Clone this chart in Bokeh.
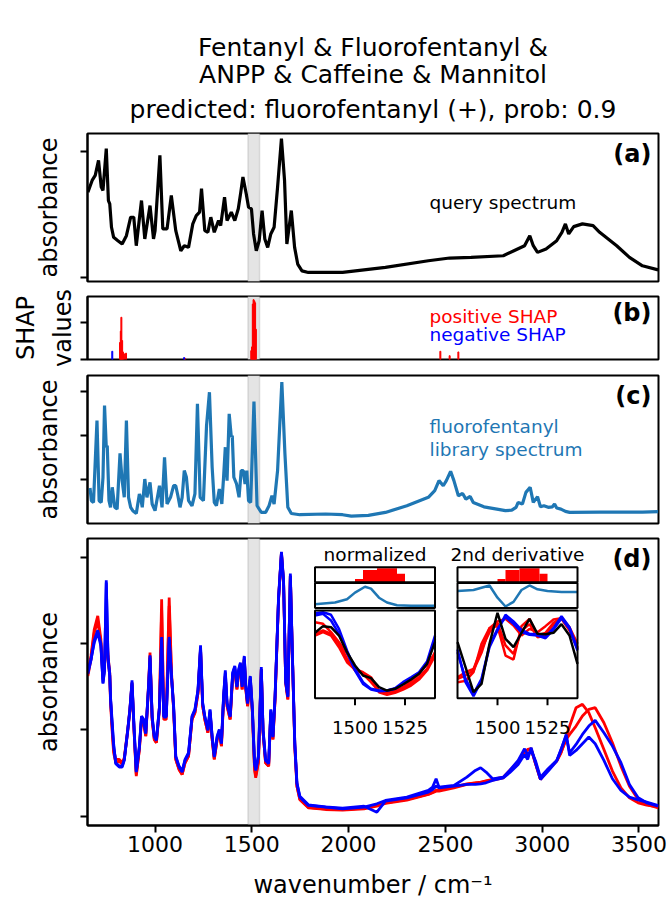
from bokeh.plotting import figure
from bokeh.models import Range1d, FixedTicker, BoxAnnotation
from bokeh.layouts import column
from bokeh.embed import file_html
from bokeh.resources import INLINE
from bokeh.core.properties import value

FONT = "DejaVu Sans"

# ---------------- data ----------------
title_lines = ["Fentanyl & Fluorofentanyl &", "ANPP & Caffeine & Mannitol",
               "predicted: fluorofentanyl (+), prob: 0.9"]
x_ticks = [1000, 1500, 2000, 2500, 3000, 3500]
band = (1480, 1540)

# (a) query spectrum
query_wn = [653, 675, 691, 708, 722, 731, 748, 759, 766, 775, 786, 808, 830, 852, 874, 890, 903, 930, 947, 974,
            992, 1000, 1025, 1040, 1062, 1084, 1107, 1133, 1151, 1173, 1195, 1213, 1230, 1240, 1257, 1273, 1288, 1306, 1328, 1339,
            1359, 1372, 1394, 1412, 1430, 1443, 1454, 1471, 1483, 1498, 1509, 1523, 1538, 1553, 1567, 1582, 1598, 1615, 1633, 1653,
            1669, 1681, 1704, 1721, 1737, 1759, 1792, 1969, 2190, 2412, 2522, 2633, 2799, 2854, 2909, 2936, 2954, 2976, 3020, 3075,
            3102, 3120, 3137, 3163, 3208, 3263, 3297, 3385, 3451, 3518, 3599]
query_abs = [0.68, 0.773, 0.813, 0.933, 0.72, 0.693, 1.027, 0.613, 0.587, 0.40, 0.32, 0.293, 0.267, 0.333, 0.48, 0.48, 0.253, 0.613, 0.307, 0.573,
             0.307, 0.373, 0.973, 0.387, 0.387, 0.653, 0.373, 0.213, 0.253, 0.24, 0.427, 0.493, 0.52, 0.707, 0.373, 0.36, 0.48, 0.36, 0.453, 0.413,
             0.64, 0.453, 0.52, 0.453, 0.547, 0.68, 0.80, 0.667, 0.56, 0.547, 0.347, 0.213, 0.293, 0.533, 0.307, 0.24, 0.347, 0.40, 0.72, 1.107,
             0.773, 0.267, 0.533, 0.24, 0.107, 0.053, 0.04, 0.04, 0.08, 0.133, 0.155, 0.16, 0.173, 0.213, 0.253, 0.333, 0.253, 0.20, 0.227, 0.293,
             0.36, 0.427, 0.347, 0.405, 0.427, 0.413, 0.36, 0.253, 0.16, 0.093, 0.061]

# (b) SHAP values
pos_shap_wn = [819, 823, 826, 830, 834, 840, 850, 1154, 1497, 1501, 1505, 1509, 1513, 1517, 1521, 2474, 2522, 2567]
pos_shap_val = [0.27, 0.45, 0.67, 0.30, 0.12, 0.09, 0.10, 0.02, 0.14, 0.20, 0.88, 0.95, 0.93, 0.90, 0.48, 0.13, 0.06, 0.12]
neg_shap_wn = [779, 1150]
neg_shap_val = [0.13, 0.03]

# (c) fluorofentanyl library spectrum
lib_wn = [664, 671, 682, 700, 711, 722, 731, 739, 748, 753, 762, 770, 779, 792, 804, 819, 830, 841, 852, 863,
          874, 885, 903, 919, 925, 934, 947, 958, 974, 985, 1000, 1023, 1036, 1049, 1062, 1080, 1096, 1107, 1118, 1129,
          1140, 1151, 1162, 1173, 1191, 1206, 1219, 1233, 1250, 1266, 1281, 1295, 1306, 1317, 1332, 1345, 1354, 1363, 1372, 1383,
          1394, 1399, 1407, 1421, 1434, 1445, 1456, 1465, 1474, 1483, 1494, 1511, 1527, 1549, 1571, 1589, 1604, 1615, 1633, 1655,
          1671, 1686, 1704, 1748, 1881, 1969, 2014, 2102, 2190, 2301, 2412, 2445, 2467, 2489, 2505, 2527, 2544, 2567, 2589, 2606,
          2628, 2644, 2699, 2766, 2810, 2843, 2865, 2876, 2898, 2916, 2938, 2954, 2976, 2991, 3009, 3031, 3053, 3064, 3075, 3097,
          3120, 3142, 3297, 3518, 3600]
lib_abs = [0.199, 0.127, 0.117, 0.583, 0.127, 0.117, 0.260, 0.668, 0.430, 0.440, 0.127, 0.089, 0.203, 0.089, 0.079, 0.396, 0.241, 0.146, 0.583, 0.146,
           0.089, 0.070, 0.054, 0.165, 0.146, 0.089, 0.250, 0.146, 0.231, 0.108, 0.070, 0.212, 0.089, 0.374, 0.108, 0.146, 0.212, 0.212, 0.155, 0.089,
           0.146, 0.298, 0.260, 0.127, 0.098, 0.165, 0.678, 0.146, 0.127, 0.554, 0.744, 0.317, 0.117, 0.098, 0.193, 0.108, 0.260, 0.431, 0.241, 0.621,
           0.488, 0.497, 0.260, 0.222, 0.146, 0.298, 0.298, 0.222, 0.298, 0.127, 0.117, 0.691, 0.098, 0.060, 0.060, 0.098, 0.155, 0.108, 0.298, 0.801,
           0.393, 0.089, 0.054, 0.047, 0.051, 0.047, 0.039, 0.043, 0.060, 0.098, 0.146, 0.184, 0.241, 0.212, 0.241, 0.294, 0.241, 0.155, 0.168, 0.136,
           0.151, 0.117, 0.092, 0.079, 0.070, 0.073, 0.089, 0.117, 0.108, 0.174, 0.203, 0.117, 0.149, 0.092, 0.098, 0.089, 0.092, 0.108, 0.085, 0.079,
           0.066, 0.060, 0.062, 0.062, 0.064]

# (d) matching training spectra
d_wn = [653, 669, 686, 704, 720, 731, 739, 748, 757, 766, 770, 779, 786, 797, 815, 830, 841, 859, 870, 881,
        892, 903, 919, 930, 941, 952, 967, 974, 985, 996, 1007, 1023, 1034, 1045, 1058, 1073, 1085, 1096, 1107, 1124,
        1140, 1155, 1173, 1191, 1206, 1222, 1235, 1246, 1257, 1273, 1284, 1295, 1306, 1321, 1332, 1343, 1354, 1363, 1372, 1388,
        1401, 1412, 1423, 1432, 1441, 1450, 1461, 1469, 1478, 1492, 1503, 1514, 1520, 1534, 1549, 1558, 1571, 1587, 1598, 1609,
        1620, 1638, 1653, 1664, 1675, 1686, 1699, 1711, 1722, 1733, 1748, 1792, 1881, 1969, 2080, 2146, 2190, 2301, 2412, 2434,
        2452, 2467, 2544, 2611, 2655, 2682, 2710, 2744, 2799, 2832, 2876, 2909, 2925, 2943, 2965, 2991, 3031, 3075, 3097, 3124,
        3142, 3175, 3208, 3241, 3274, 3319, 3363, 3407, 3451, 3496, 3540, 3600]
d_blue1 = [0.427, 0.467, 0.527, 0.557, 0.517, 0.397, 0.437, 0.707, 0.477, 0.427, 0.357, 0.277, 0.217, 0.157, 0.147, 0.147, 0.167, 0.257, 0.317, 0.407,
           0.257, 0.132, 0.207, 0.297, 0.287, 0.247, 0.397, 0.482, 0.297, 0.237, 0.227, 0.327, 0.537, 0.297, 0.297, 0.537, 0.417, 0.327, 0.177, 0.147,
           0.132, 0.167, 0.187, 0.297, 0.317, 0.377, 0.512, 0.337, 0.297, 0.257, 0.317, 0.237, 0.177, 0.237, 0.257, 0.217, 0.357, 0.437, 0.337, 0.297,
           0.427, 0.447, 0.387, 0.437, 0.457, 0.387, 0.477, 0.387, 0.337, 0.417, 0.317, 0.157, 0.137, 0.177, 0.447, 0.257, 0.167, 0.157, 0.317, 0.237,
           0.357, 0.657, 0.792, 0.707, 0.407, 0.357, 0.727, 0.457, 0.217, 0.097, 0.057, 0.032, 0.027, 0.022, 0.027, 0.037, 0.047, 0.057, 0.077, 0.087,
           0.112, 0.087, 0.092, 0.117, 0.137, 0.145, 0.132, 0.112, 0.117, 0.137, 0.167, 0.202, 0.182, 0.197, 0.167, 0.117, 0.142, 0.167, 0.197, 0.245,
           0.182, 0.197, 0.217, 0.237, 0.217, 0.167, 0.112, 0.077, 0.057, 0.049, 0.042, 0.032]
d_blue2 = [0.435, 0.47, 0.52, 0.55, 0.51, 0.40, 0.44, 0.70, 0.47, 0.42, 0.35, 0.27, 0.21, 0.16, 0.15, 0.15, 0.17, 0.26, 0.32, 0.40,
           0.26, 0.135, 0.21, 0.30, 0.29, 0.25, 0.39, 0.475, 0.30, 0.24, 0.23, 0.33, 0.53, 0.30, 0.30, 0.53, 0.42, 0.33, 0.18, 0.15,
           0.135, 0.17, 0.19, 0.30, 0.32, 0.38, 0.505, 0.34, 0.30, 0.26, 0.32, 0.24, 0.18, 0.24, 0.26, 0.22, 0.36, 0.43, 0.34, 0.30,
           0.43, 0.45, 0.39, 0.44, 0.46, 0.39, 0.48, 0.39, 0.34, 0.42, 0.32, 0.16, 0.14, 0.18, 0.44, 0.26, 0.17, 0.16, 0.32, 0.24,
           0.36, 0.65, 0.79, 0.70, 0.40, 0.36, 0.72, 0.45, 0.22, 0.10, 0.06, 0.034, 0.028, 0.024, 0.03, 0.012, 0.045, 0.055, 0.072, 0.08,
           0.09, 0.085, 0.09, 0.095, 0.095, 0.097, 0.10, 0.107, 0.115, 0.13, 0.155, 0.185, 0.17, 0.205, 0.16, 0.11, 0.135, 0.165, 0.20, 0.24,
           0.19, 0.215, 0.245, 0.27, 0.287, 0.25, 0.21, 0.16, 0.095, 0.055, 0.04, 0.03]
d_red1 = [0.43, 0.48, 0.56, 0.60, 0.53, 0.42, 0.45, 0.60, 0.48, 0.43, 0.35, 0.26, 0.20, 0.17, 0.17, 0.16, 0.175, 0.26, 0.32, 0.40,
          0.25, 0.125, 0.20, 0.29, 0.28, 0.24, 0.40, 0.49, 0.29, 0.23, 0.22, 0.33, 0.65, 0.30, 0.30, 0.655, 0.43, 0.32, 0.17, 0.14,
          0.125, 0.16, 0.18, 0.29, 0.31, 0.37, 0.50, 0.33, 0.29, 0.25, 0.31, 0.23, 0.17, 0.23, 0.25, 0.21, 0.35, 0.42, 0.33, 0.29,
          0.42, 0.44, 0.38, 0.43, 0.45, 0.38, 0.47, 0.38, 0.33, 0.41, 0.31, 0.14, 0.115, 0.16, 0.44, 0.25, 0.16, 0.15, 0.31, 0.23,
          0.35, 0.65, 0.79, 0.70, 0.40, 0.35, 0.72, 0.45, 0.21, 0.09, 0.05, 0.025, 0.02, 0.018, 0.022, 0.03, 0.038, 0.048, 0.065, 0.07,
          0.075, 0.075, 0.085, 0.095, 0.10, 0.10, 0.105, 0.108, 0.115, 0.135, 0.16, 0.19, 0.20, 0.202, 0.16, 0.11, 0.14, 0.165, 0.19, 0.235,
          0.27, 0.325, 0.335, 0.31, 0.265, 0.20, 0.135, 0.085, 0.055, 0.04, 0.033, 0.028]
d_red2 = [0.42, 0.47, 0.55, 0.585, 0.52, 0.41, 0.44, 0.58, 0.47, 0.42, 0.34, 0.25, 0.19, 0.16, 0.165, 0.155, 0.17, 0.255, 0.315, 0.395,
          0.25, 0.12, 0.20, 0.29, 0.28, 0.24, 0.39, 0.48, 0.29, 0.23, 0.22, 0.32, 0.62, 0.29, 0.29, 0.63, 0.42, 0.32, 0.17, 0.14,
          0.125, 0.16, 0.18, 0.29, 0.31, 0.37, 0.50, 0.33, 0.29, 0.25, 0.31, 0.23, 0.17, 0.23, 0.25, 0.21, 0.35, 0.42, 0.33, 0.29,
          0.42, 0.44, 0.38, 0.43, 0.45, 0.38, 0.47, 0.38, 0.33, 0.41, 0.31, 0.145, 0.12, 0.165, 0.44, 0.25, 0.16, 0.15, 0.31, 0.23,
          0.35, 0.65, 0.785, 0.70, 0.40, 0.35, 0.72, 0.45, 0.21, 0.09, 0.05, 0.026, 0.021, 0.02, 0.024, 0.032, 0.04, 0.05, 0.066, 0.072,
          0.078, 0.078, 0.087, 0.097, 0.10, 0.102, 0.106, 0.11, 0.117, 0.137, 0.162, 0.192, 0.198, 0.20, 0.158, 0.11, 0.14, 0.165, 0.19, 0.23,
          0.245, 0.27, 0.30, 0.32, 0.325, 0.28, 0.22, 0.15, 0.09, 0.05, 0.035, 0.025]

# insets (zoom on the grey band)
inset_wn = [1480, 1484, 1488, 1492, 1496, 1500, 1504, 1508, 1512, 1516, 1520, 1524, 1528, 1532, 1536, 1540]
inset_ticks = [1500, 1525]
shap_bin_left = [1500, 1504, 1511, 1521]
shap_bin_right = [1504, 1511, 1521, 1525]
shap_bin_val = [0.22, 0.82, 0.93, 0.56]
lib_norm_wn = [1480, 1490, 1496, 1500, 1505, 1508, 1512, 1516, 1521, 1528, 1540]
lib_norm_val = [0.10, 0.18, 0.33, 0.63, 0.90, 0.81, 0.40, 0.18, 0.06, 0.03, 0.03]
lib_d2_wn = [1480, 1488, 1496, 1500, 1504, 1508, 1512, 1516, 1520, 1525, 1532, 1540]
lib_d2_val = [0.70, 0.75, 0.955, 0.40, 0.0, 0.21, 0.75, 0.955, 0.78, 0.70, 0.66, 0.66]
norm_query = [0.754, 0.831, 0.819, 0.723, 0.531, 0.377, 0.262, 0.231, 0.127, 0.088, 0.108, 0.158, 0.215, 0.281, 0.396, 0.646]
norm_blue1 = [0.981, 0.992, 0.962, 0.80, 0.55, 0.338, 0.185, 0.108, 0.088, 0.088, 0.115, 0.185, 0.242, 0.30, 0.423, 0.723]
norm_blue2 = [0.954, 0.973, 0.896, 0.742, 0.531, 0.319, 0.165, 0.10, 0.081, 0.085, 0.108, 0.165, 0.231, 0.292, 0.396, 0.685]
norm_red1 = [0.877, 0.858, 0.762, 0.646, 0.512, 0.338, 0.30, 0.242, 0.088, 0.062, 0.077, 0.115, 0.165, 0.242, 0.338, 0.531]
norm_red2 = [0.742, 0.781, 0.742, 0.627, 0.454, 0.319, 0.292, 0.223, 0.069, 0.038, 0.062, 0.10, 0.146, 0.215, 0.319, 0.492]
norm_red3 = [0.723, 0.762, 0.723, 0.588, 0.415, 0.331, 0.281, 0.185, 0.077, 0.069, 0.085, 0.127, 0.192, 0.281, 0.396, 0.512]
d2_query = [0.646, 0.358, 0.069, 0.165, 0.627, 0.985, 0.685, 0.588, 0.754, 0.915, 0.742, 0.738, 0.754, 0.854, 0.723, 0.396]
d2_blue1 = [0.562, 0.185, 0.023, 0.204, 0.588, 0.781, 0.962, 0.885, 0.788, 0.742, 0.738, 0.704, 0.808, 0.946, 0.819, 0.569]
d2_blue2 = [0.531, 0.223, 0.05, 0.223, 0.608, 0.80, 0.935, 0.858, 0.762, 0.731, 0.723, 0.692, 0.792, 0.923, 0.80, 0.55]
d2_red1 = [0.223, 0.262, 0.319, 0.523, 0.808, 0.885, 0.915, 0.838, 0.723, 0.80, 0.762, 0.831, 0.908, 0.923, 0.792, 0.588]
d2_red2 = [0.185, 0.20, 0.30, 0.627, 0.808, 0.831, 0.492, 0.446, 0.831, 0.915, 0.723, 0.754, 0.869, 0.931, 0.819, 0.627]
d2_red3 = [0.242, 0.30, 0.338, 0.569, 0.762, 0.869, 0.608, 0.512, 0.777, 0.854, 0.704, 0.723, 0.854, 0.915, 0.781, 0.569]

# ---------------- layout / style ----------------
RED, BLUE, LIB = "#ff0000", "#0000ff", "#1f77b4"
FL, FR = 87, 658
FW = FR - FL
XR = (651, 3601)


def txt(p, x, y, s, size, color="black", align="left", bold=False, xr="px", yr="py", baseline="middle"):
    p.text(x=[x], y=[y], text=[s], text_font=value(FONT), text_font_size=size, text_color=color,
           text_align=align, text_baseline=baseline, text_font_style="bold" if bold else "normal",
           x_range_name=xr, y_range_name=yr)


def panel(ftop, fbot, btop, bbot, yr, yticks, ylabel, xaxis=False, standoff=18, lh=1.2):
    p = figure(frame_width=FW, frame_height=fbot - ftop, min_border_left=FL, min_border_right=667 - FR,
               min_border_top=btop, min_border_bottom=bbot,
               x_range=Range1d(*XR), y_range=Range1d(*yr),
               x_axis_location="below" if xaxis else None,
               output_backend="svg", toolbar_location=None)
    p.extra_x_ranges = {"px": Range1d(FL, FR)}
    p.extra_y_ranges = {"py": Range1d(fbot, ftop)}
    p.xgrid.visible = False
    p.ygrid.visible = False
    p.outline_line_color = "black"
    p.outline_line_width = 2
    p.outline_line_alpha = 1
    p.background_fill_color = "white"
    p.border_fill_color = "white"
    ax = p.yaxis[0]
    ax.ticker = FixedTicker(ticks=yticks)
    ax.axis_line_width = 2
    ax.major_tick_line_width = 2
    ax.major_tick_out = 7
    ax.major_tick_in = 0
    ax.minor_tick_line_color = None
    ax.major_label_text_font_size = "0px"
    ax.major_label_text_color = None
    ax.major_label_standoff = 0
    ax.axis_label = ylabel
    ax.axis_label_text_font = FONT
    ax.axis_label_text_font_size = "24px"
    ax.axis_label_text_font_style = "normal"
    ax.axis_label_text_color = "black"
    ax.axis_label_text_line_height = lh
    ax.axis_label_standoff = standoff
    p.add_layout(BoxAnnotation(left=band[0], right=band[1], fill_color="#e4e4e4", fill_alpha=1.0,
                               line_color="#a0a0a0", line_width=1.5, level="underlay"))
    return p


# title block
t = figure(frame_width=FW, frame_height=123, min_border_left=FL, min_border_right=667 - FR,
           min_border_top=0, min_border_bottom=0, x_range=Range1d(FL, FR), y_range=Range1d(123, 0),
           x_axis_location=None, y_axis_location=None, output_backend="svg", toolbar_location=None)
t.outline_line_color = None
t.xgrid.visible = False
t.ygrid.visible = False
for s, yy in zip(title_lines, [47, 74, 109]):
    txt(t, (FL + FR) / 2, yy, s, "25px", align="center", xr="default", yr="default")

# (a)
pa = panel(133, 281, 10, 7, (-0.032, 1.147), [0, 1], "absorbance")
pa.line(query_wn, query_abs, line_color="black", line_width=3.2)
txt(pa, 429, 202, "query spectrum", "18.5px")
txt(pa, 651, 153, "(a)", "24px", align="right", bold=True)

# (b)
pb = panel(296, 359, 8, 7, (0, 1), [0, 0.59], "SHAP\nvalues", standoff=4, lh=1.3)
pb.vbar(x=pos_shap_wn, top=pos_shap_val, bottom=0, width=5, fill_color=RED, line_color=RED, line_width=1)
pb.vbar(x=neg_shap_wn, top=neg_shap_val, bottom=0, width=5, fill_color=BLUE, line_color=BLUE, line_width=1)
txt(pb, 429, 316, "positive SHAP", "18.5px", color=RED)
txt(pb, 429, 334, "negative SHAP", "18.5px", color=BLUE)
txt(pb, 651, 312, "(b)", "24px", align="right", bold=True)

# (c)
pc = panel(375, 523, 9, 7, (-0.003, 0.839), [0.25, 0.5, 0.75], "absorbance")
pc.line(lib_wn, lib_abs, line_color=LIB, line_width=3.2)
txt(pc, 429, 426, "fluorofentanyl", "18.5px", color=LIB)
txt(pc, 429, 449, "library spectrum", "18.5px", color=LIB)
txt(pc, 651, 395, "(c)", "24px", align="right", bold=True)

# (d)
FT, FB = 538, 825
pd_ = panel(FT, FB, 8, 75, (-0.028, 0.832), [0, 0.2583, 0.5167, 0.775], "absorbance", xaxis=True)
xa = pd_.xaxis[0]
xa.ticker = FixedTicker(ticks=x_ticks)
xa.axis_line_width = 2
xa.major_tick_line_width = 2
xa.major_tick_out = 7
xa.major_tick_in = 0
xa.minor_tick_line_color = None
xa.major_label_text_font = FONT
xa.major_label_text_font_size = "22px"
xa.major_label_text_color = "black"
xa.major_label_standoff = 3
xa.axis_label = "wavenumber / cm\u207b\u00b9"
xa.axis_label_text_font = FONT
xa.axis_label_text_font_size = "24px"
xa.axis_label_text_font_style = "normal"
xa.axis_label_text_color = "black"
xa.axis_label_standoff = 16

for ys in (d_red1, d_red2):
    pd_.line(d_wn, ys, line_color=RED, line_width=2.8)
for ys in (d_blue2, d_blue1):
    pd_.line(d_wn, ys, line_color=BLUE, line_width=2.8)
txt(pd_, 651, 558, "(d)", "24px", align="right", bold=True)


def xmap(d0, d1, p0, p1):
    s = (p1 - p0) / (d1 - d0)
    return Range1d(d0 - (p0 - FL) / s, d1 + (FR - p1) / s)


def ymap(d0, d1, ptop, pbot):
    s = (pbot - ptop) / (d1 - d0)
    return Range1d(d0 - (FB - pbot) / s, d1 + (ptop - FT) / s)


INS = [(314.5, 434.5), (457, 577)]
SH_T, SH_B = 566.7, 581.7
LB_T, LB_B = 584.0, 606.0
SP_T, SP_B = 611.0, 697.7
pd_.extra_x_ranges.update({"i0": xmap(band[0], band[1], *INS[0]), "i1": xmap(band[0], band[1], *INS[1])})
pd_.extra_y_ranges.update({"shap": ymap(0, 1, SH_T, SH_B), "lib": ymap(0, 1, LB_T, LB_B),
                           "spec": ymap(0, 1, SP_T, SP_B)})

insets = [
    ("normalized", lib_norm_wn, lib_norm_val,
     [(norm_red1, RED), (norm_red2, RED), (norm_red3, RED), (norm_blue1, BLUE), (norm_blue2, BLUE), (norm_query, "black")]),
    ("2nd derivative", lib_d2_wn, lib_d2_val,
     [(d2_red1, RED), (d2_red2, RED), (d2_red3, RED), (d2_blue1, BLUE), (d2_blue2, BLUE), (d2_query, "black")]),
]
for k, (name, lwn, lval, lines) in enumerate(insets):
    xl, xr_ = INS[k]
    rn = "i%d" % k
    pd_.quad(left=[xl], right=[xr_], top=[SH_T], bottom=[SP_B], fill_color="white", line_color=None,
             x_range_name="px", y_range_name="py")
    pd_.quad(left=shap_bin_left, right=shap_bin_right, bottom=0, top=shap_bin_val, fill_color=RED,
             line_color=None, x_range_name=rn, y_range_name="shap")
    pd_.line(lwn, lval, line_color=LIB, line_width=2.5, x_range_name=rn, y_range_name="lib")
    for ys, c in lines:
        pd_.line(inset_wn, ys, line_color=c, line_width=2.5, x_range_name=rn, y_range_name="spec")
    pd_.quad(left=[xl] * 3, right=[xr_] * 3, top=[SH_T, LB_T - 1.5, SP_T - 1], bottom=[SH_B, LB_B + 1.5, SP_B],
             fill_color=None, line_color="black", line_width=2, x_range_name="px", y_range_name="py")
    pd_.segment(x0=inset_ticks, x1=inset_ticks, y0=[SP_B] * 2, y1=[SP_B + 7] * 2, line_color="black",
                line_width=2, x_range_name=rn, y_range_name="py")
    for tk in inset_ticks:
        txt(pd_, tk, 727, str(tk), "18px", align="center", xr=rn)
    txt(pd_, (xl + xr_) / 2, 554, name, "18.5px", align="center")

layout = column(t, pa, pb, pc, pd_, spacing=0)
open("out.html", "w").write(file_html(layout, INLINE))
